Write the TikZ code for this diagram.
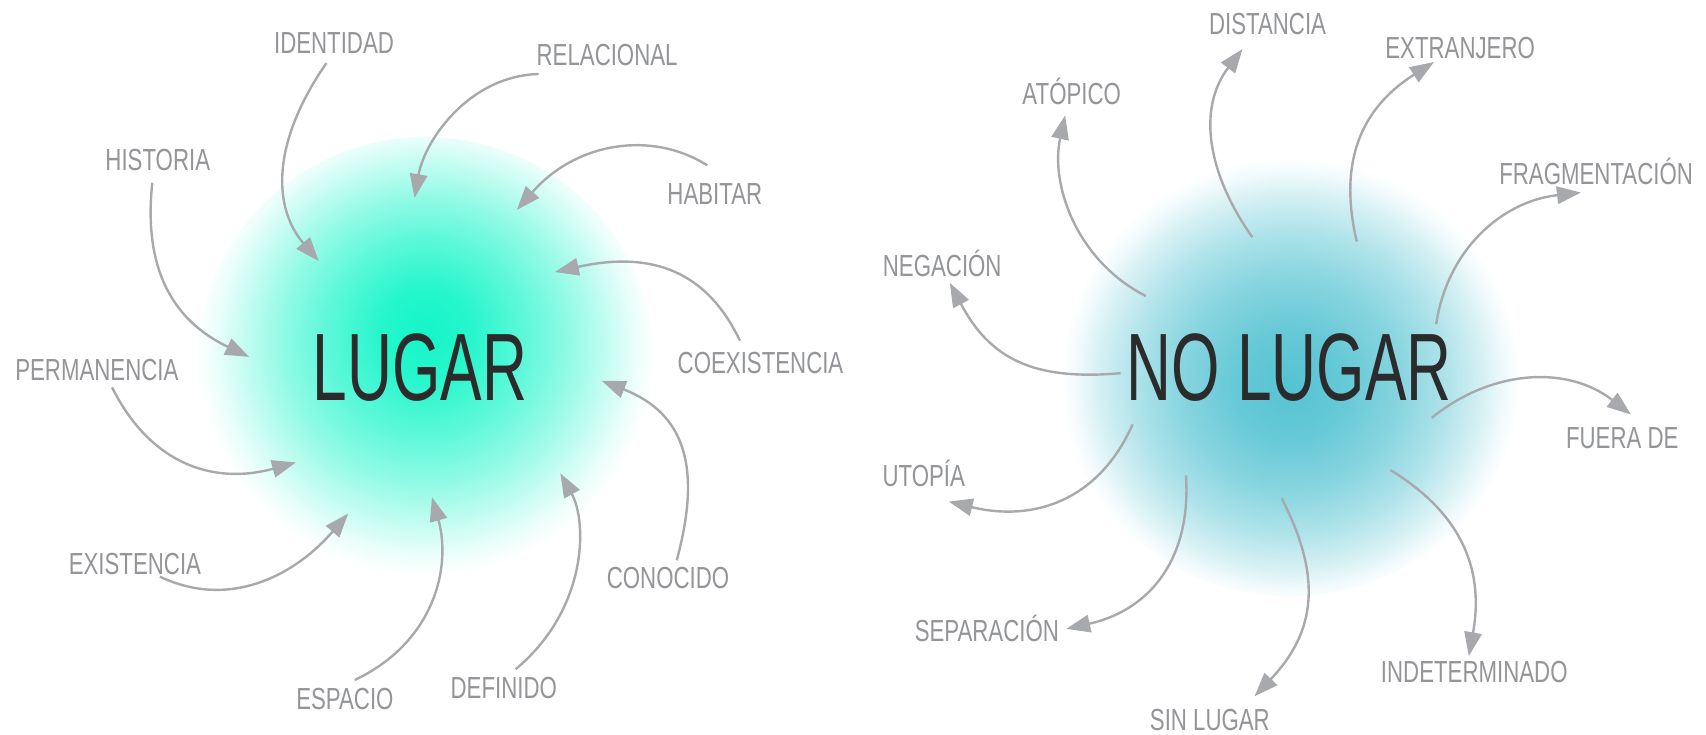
\documentclass[tikz,border=0pt]{standalone}
\usepackage{fontspec}
\setmainfont{Liberation Sans}
\newfontfamily\lblfont[FakeStretch=0.73]{Liberation Sans}
\newfontfamily\bigfont[FakeStretch=0.65]{Liberation Sans}
\usetikzlibrary{arrows.meta}
\definecolor{lblgray}{HTML}{939598}
\definecolor{arrgray}{HTML}{A7A9AC}
\definecolor{darktxt}{HTML}{2B2B2B}
\definecolor{gA}{RGB}{20,245,200}
\definecolor{gB}{RGB}{85,195,210}
\pgfdeclareradialshading{glowA}{\pgfpoint{0bp}{4bp}}{color(0bp)=(gA); color(5bp)=(gA!92!white); color(11bp)=(gA!68!white); color(16bp)=(gA!45!white); color(20bp)=(gA!24!white); color(23bp)=(gA!8!white); color(25bp)=(white); color(50bp)=(white)}
\pgfdeclareradialshading{glowB}{\pgfpoint{0bp}{-1.5bp}}{color(0bp)=(gB); color(6bp)=(gB!90!white); color(12bp)=(gB!70!white); color(17bp)=(gB!47!white); color(21bp)=(gB!24!white); color(23.5bp)=(gB!7!white); color(25bp)=(white); color(50bp)=(white)}
\tikzset{
  lbl/.style={inner sep=0pt, text=lblgray, font=\lblfont\fontsize{14}{16}\selectfont, text height=10pt, text depth=0pt},
  bigtxt/.style={inner sep=0pt, text=darktxt, font=\bigfont\fontsize{44}{50}\selectfont, text height=31.5pt, text depth=0pt},
  arr/.style={draw=arrgray, line width=1.1pt, -{Triangle[length=11pt,width=8pt]}, fill=none}
}
\begin{document}
\begin{tikzpicture}[x=0.5pt,y=-0.5pt]
\useasboundingbox (0,0) rectangle (1568,675);
\fill[white] (0,0) rectangle (1568,675);
% glows
\shade[shading=glowA] (391,336) ellipse [x radius=105.5pt, y radius=105pt];
\shade[shading=glowB] (1186,343) ellipse [x radius=105.5pt, y radius=102.5pt];
% centre texts
\node[bigtxt] (lugar) at (386,337) {LUGAR};
\node[bigtxt] (nolugar) at (1185,337) {NO LUGAR};
% left labels
\node[lbl] (identidad) at (307,39) {IDENTIDAD};
\node[lbl] (relacional) at (558,50) {RELACIONAL};
\node[lbl] (historia) at (145,147) {HISTORIA};
\node[lbl] (habitar) at (657,178) {HABITAR};
\node[lbl] (permanencia) at (89,340) {PERMANENCIA};
\node[lbl] (coexistencia) at (699,333) {COEXISTENCIA};
\node[lbl] (existencia) at (124,518) {EXISTENCIA};
\node[lbl] (conocido) at (614,531) {CONOCIDO};
\node[lbl] (espacio) at (317,642) {ESPACIO};
\node[lbl] (definido) at (463,632) {DEFINIDO};
% right labels
\node[lbl] (distancia) at (1165,22) {DISTANCIA};
\node[lbl] (extranjero) at (1342,44) {EXTRANJERO};
\node[lbl] (atopico) at (985,86) {ATÓPICO};
\node[lbl] (fragmentacion) at (1467,160) {FRAGMENTACIÓN};
\node[lbl] (negacion) at (866,244) {NEGACIÓN};
\node[lbl] (fuerade) at (1491,402) {FUERA DE};
\node[lbl] (utopia) at (849,437) {UTOPÍA};
\node[lbl] (separacion) at (907,580) {SEPARACIÓN};
\node[lbl] (indeterminado) at (1355,617) {INDETERMINADO};
\node[lbl] (sinlugar) at (1112,661) {SIN LUGAR};
% arrow end coordinates (left, pointing inward)
\coordinate (idS) at (300,58);   \coordinate (idE) at (293,240);
\coordinate (reS) at (495,68);   \coordinate (reE) at (381,182);
\coordinate (hiS) at (140,168);  \coordinate (hiE) at (229,328);
\coordinate (haS) at (650,152);  \coordinate (haE) at (475,193);
\coordinate (coS) at (680,313);  \coordinate (coE) at (510,250);
\coordinate (peS) at (103,356);  \coordinate (peE) at (272,425);
\coordinate (exS) at (147,530);  \coordinate (exE) at (320,472);
\coordinate (cnS) at (622,515);  \coordinate (cnE) at (553,350);
\coordinate (esS) at (326,625);  \coordinate (esE) at (397,457);
\coordinate (deS) at (474,615);  \coordinate (deE) at (515,435);
% arrow end coordinates (right, pointing outward)
\coordinate (atS) at (1053,272); \coordinate (atE) at (979,106);
\coordinate (diS) at (1151,218); \coordinate (diE) at (1142,45);
\coordinate (etS) at (1247,222); \coordinate (etE) at (1318,57);
\coordinate (frS) at (1320,298); \coordinate (frE) at (1453,177);
\coordinate (neS) at (1030,343); \coordinate (neE) at (873,260);
\coordinate (fuS) at (1316,384); \coordinate (fuE) at (1499,381);
\coordinate (utS) at (1041,390); \coordinate (utE) at (872,461);
\coordinate (seS) at (1090,437); \coordinate (seE) at (980,578);
\coordinate (slS) at (1178,458); \coordinate (slE) at (1153,640);
\coordinate (inS) at (1278,432); \coordinate (inE) at (1350,603);
% left arrows
\draw[arr] (idS) .. controls (250,130) and (250,190) .. (idE);
\draw[arr] (reS) .. controls (430,70) and (390,130) .. (reE);
\draw[arr] (hiS) .. controls (130,260) and (170,300) .. (hiE);
\draw[arr] (haS) .. controls (600,120) and (530,130) .. (haE);
\draw[arr] (coS) .. controls (650,250) and (600,230) .. (coE);
\draw[arr] (peS) .. controls (140,430) and (200,445) .. (peE);
\draw[arr] (exS) .. controls (210,560) and (270,530) .. (exE);
\draw[arr] (cnS) .. controls (645,430) and (630,380) .. (cnE);
\draw[arr] (esS) .. controls (400,590) and (415,520) .. (esE);
\draw[arr] (deS) .. controls (540,560) and (540,480) .. (deE);
% right arrows
\draw[arr] (atS) .. controls (990,240) and (965,170) .. (atE);
\draw[arr] (diS) .. controls (1110,160) and (1100,100) .. (diE);
\draw[arr] (etS) .. controls (1230,150) and (1250,100) .. (etE);
\draw[arr] (frS) .. controls (1330,230) and (1380,185) .. (frE);
\draw[arr] (neS) .. controls (950,350) and (910,330) .. (neE);
\draw[arr] (fuS) .. controls (1370,340) and (1440,335) .. (fuE);
\draw[arr] (utS) .. controls (1010,460) and (950,480) .. (utE);
\draw[arr] (seS) .. controls (1095,510) and (1060,560) .. (seE);
\draw[arr] (slS) .. controls (1215,530) and (1210,580) .. (slE);
\draw[arr] (inS) .. controls (1340,470) and (1365,520) .. (inE);
\end{tikzpicture}
\end{document}
